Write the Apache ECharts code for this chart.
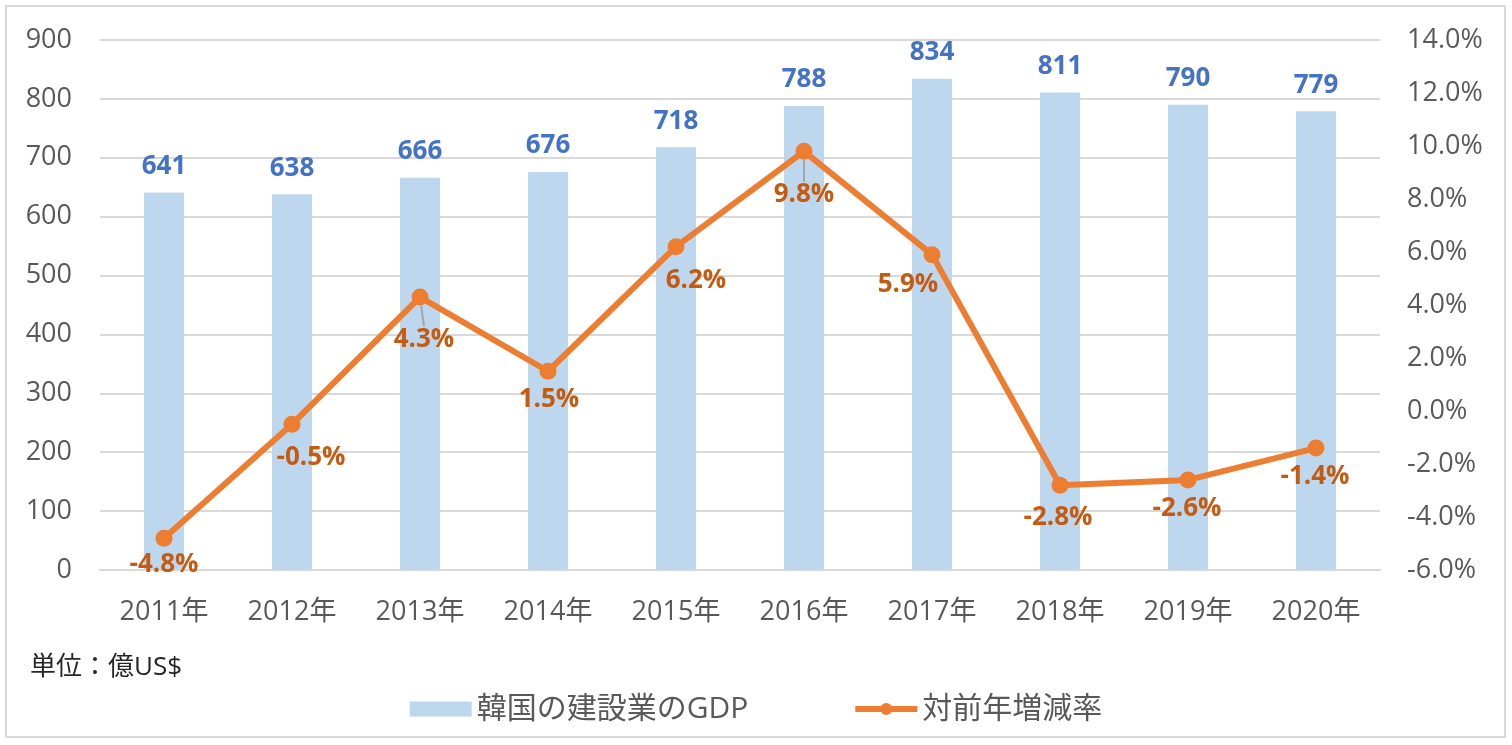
<!DOCTYPE html>
<html>
<head>
<meta charset="utf-8">
<script src="https://cdn.jsdelivr.net/npm/echarts@6/dist/echarts.min.js"></script>
<style>
  html, body { margin: 0; padding: 0; background: #fff; }
  #chart { width: 1512px; height: 745px; }
</style>
</head>
<body>
<div id="chart"></div>
<script>
// データ
var years = ['2011年', '2012年', '2013年', '2014年', '2015年', '2016年', '2017年', '2018年', '2019年', '2020年']
var gdp = [641, 638, 666, 676, 718, 788, 834, 811, 790, 779]
var rate = [-4.8, -0.5, 4.3, 1.5, 6.2, 9.8, 5.9, -2.8, -2.6, -1.4]
var barName = '韓国の建設業のGDP'
var lineName = '対前年増減率'

var fontFamily = '"Open Sans", "Noto Sans CJK JP", sans-serif'
var axisColor = '#595959'
var gridColor = '#D9D9D9'

// ラベルの微調整 (Excel側で手動移動されたもの)
var labelNudge = [[0, 0], [19, 7], [4, 16], [1, 2], [20, 7], [0, 17], [-24, 3], [-2, 6], [-1, 2], [-1, 2]]
// 引き出し線ありのラベル
var leaderIdx = [2, 5]

var myChart = echarts.init(document.getElementById('chart'))

var option = {
  animation: false,
  textStyle: { fontFamily: fontFamily },
  grid: {
    left: 100,
    right: 132,
    top: 40,
    bottom: 175
  },
  legend: {
    top: 689,
    left: 'center',
    itemGap: 104,
    itemWidth: 62,
    itemHeight: 15,
    textStyle: {
      color: axisColor,
      fontSize: 30,
      fontFamily: fontFamily
    },
    data: [
      { name: barName, icon: 'rect' },
      { name: lineName, lineStyle: { width: 6 } }
    ]
  },
  graphic: [
    {
      type: 'rect',
      shape: { x: 6, y: 6, width: 1499, height: 731 },
      style: { fill: 'none', stroke: gridColor, lineWidth: 2 },
      silent: true
    },
    {
      type: 'text',
      left: 30,
      top: 655,
      style: {
        text: '単位：億US$',
        fill: '#262626',
        font: '26px ' + fontFamily
      }
    }
  ],
  xAxis: {
    type: 'category',
    data: years,
    axisLine: { lineStyle: { color: gridColor, width: 2 } },
    axisTick: { show: false },
    axisLabel: {
      color: axisColor,
      fontSize: 27,
      margin: 29
    }
  },
  yAxis: [
    {
      type: 'value',
      min: 0,
      max: 900,
      interval: 100,
      axisLine: { show: false },
      axisTick: { show: false },
      axisLabel: { color: axisColor, fontSize: 27, margin: 28 },
      splitLine: { lineStyle: { color: gridColor, width: 2 } }
    },
    {
      type: 'value',
      min: -6,
      max: 14,
      interval: 2,
      axisLine: { show: false },
      axisTick: { show: false },
      axisLabel: {
        color: axisColor,
        fontSize: 27,
        margin: 27,
        formatter: function (v) { return v.toFixed(1) + '%' }
      },
      splitLine: { show: false }
    }
  ],
  series: [
    {
      name: barName,
      type: 'bar',
      barWidth: 40,
      itemStyle: { color: '#BDD7EE' },
      label: {
        show: true,
        position: 'top',
        distance: 13,
        color: '#4472C4',
        fontWeight: 'bold',
        fontSize: 26
      },
      data: gdp
    },
    {
      name: lineName,
      type: 'line',
      yAxisIndex: 1,
      z: 5,
      symbol: 'circle',
      symbolSize: 17,
      lineStyle: { color: '#ED7D31', width: 6 },
      itemStyle: { color: '#ED7D31' },
      label: {
        show: true,
        position: 'bottom',
        distance: 5,
        color: '#C55A11',
        fontWeight: 'bold',
        fontSize: 26,
        formatter: function (p) { return p.value.toFixed(1) + '%' }
      },
      labelLine: {
        show: false,
        lineStyle: { color: '#A6A6A6', width: 2 }
      },
      labelLayout: function (params) {
        var n = labelNudge[params.dataIndex]
        return { dx: n[0], dy: n[1] }
      },
      data: rate.map(function (v, i) {
        if (leaderIdx.indexOf(i) >= 0) {
          return { value: v, labelLine: { show: true } }
        }
        return v
      })
    }
  ]
}

myChart.setOption(option)
</script>
</body>
</html>
